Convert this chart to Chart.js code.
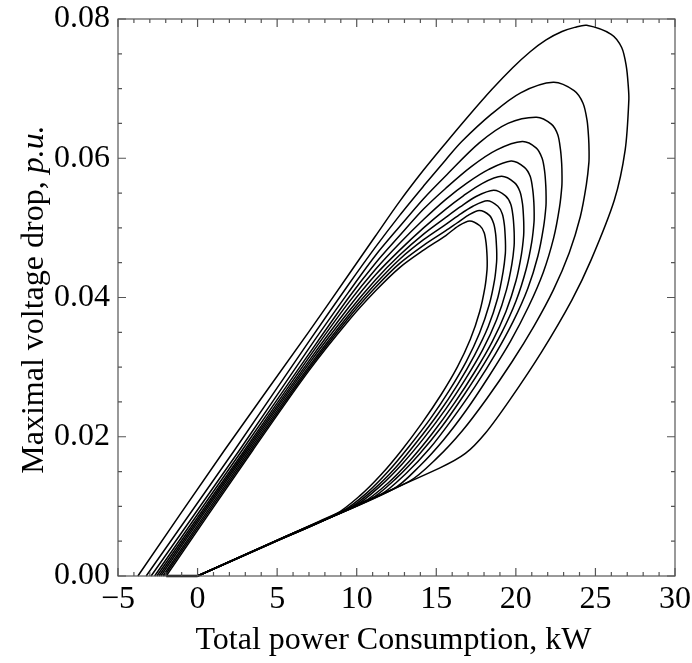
<!DOCTYPE html>
<html>
<head>
<meta charset="utf-8">
<script src="https://cdn.jsdelivr.net/npm/chart.js@4.4.1/dist/chart.umd.min.js"></script>
<style>
  html, body { margin: 0; padding: 0; background: #fff; }
  canvas { display: block; }
</style>
</head>
<body>
<canvas id="chart" width="692" height="663"></canvas>
<script>
// Tick positions of the two axes
const xTicks = [-5, 0, 5, 10, 15, 20, 25, 30];
const yTicks = [0, 0.02, 0.04, 0.06, 0.08];

const xTitle = 'Total power Consumption, kW';
const yTitleMain = 'Maximal voltage drop, ';
const yTitleItalic = 'p.u.';

// Loops, outermost first: [power kW, voltage drop p.u.]
// order: zero crossing -> rising branch -> top -> right branch -> lower line -> origin
const loop1 = [[-3.75,0],[1.7,0.0181],[7,0.0351],[9.5,0.0433],[11.2,0.0489],[12.7,0.0538],[14.2,0.0583],[15.6,0.0622],[17.0,0.066],[18.5,0.0699],[19.8,0.073],[20.9,0.0753],[21.9,0.077],[22.9,0.0782],[23.7,0.0788],[24.45,0.0791],[25.99,0.0778],[26.65,0.0759],[26.94,0.0732],[27.06,0.0705],[27.1,0.0684],[26.87,0.0612],[26.19,0.054],[24.73,0.0454],[23.51,0.0396],[21.62,0.0322],[19.62,0.0253],[18.08,0.0205],[16.83,0.0176],[15.2,0.0155],[7.6,0.0078],[0,0]];
const loop2 = [[-3.23,0],[2.33,0.0181],[7,0.0337],[9.5,0.0419],[11.2,0.0473],[12.7,0.0518],[14.2,0.056],[15.6,0.0598],[16.6,0.0624],[18.5,0.0664],[20.3,0.0694],[22.35,0.0709],[23.66,0.0697],[24.22,0.0679],[24.47,0.0655],[24.57,0.063],[24.6,0.061],[24.59,0.0594],[24.43,0.0562],[24.05,0.0516],[23.35,0.0464],[22.36,0.0411],[21.14,0.0359],[19.74,0.0307],[18.18,0.0255],[16.65,0.0209],[15.07,0.017],[13.3,0.0136],[6.65,0.0068],[0,0]];
const loop3 = [[-2.92,0],[2.64,0.0181],[7,0.0327],[9.5,0.0408],[11.2,0.0461],[12.7,0.0502],[14.2,0.0542],[15.6,0.0575],[17.7,0.0622],[19.5,0.065],[21.3,0.0659],[22.23,0.0649],[22.63,0.0634],[22.8,0.0613],[22.88,0.0592],[22.9,0.0575],[22.89,0.056],[22.74,0.0529],[22.38,0.0486],[21.72,0.0436],[20.8,0.0387],[19.66,0.0337],[18.34,0.0288],[16.88,0.0238],[15.44,0.0195],[13.96,0.0158],[12.3,0.0125],[6.15,0.0063],[0,0]];
const loop4 = [[-2.7,0],[2.81,0.0181],[7,0.0319],[9.5,0.04],[11.2,0.045],[12.7,0.0489],[14.2,0.0527],[15.6,0.0557],[17.2,0.0588],[18.8,0.0612],[20.4,0.0624],[21.27,0.0615],[21.65,0.06],[21.81,0.0581],[21.88,0.0561],[21.9,0.0545],[21.89,0.0531],[21.74,0.0501],[21.39,0.046],[20.75,0.0413],[19.84,0.0366],[18.72,0.0319],[17.43,0.0272],[15.99,0.0225],[14.58,0.0183],[13.13,0.0148],[11.5,0.0117],[5.75,0.0059],[0,0]];
const loop5 = [[-2.56,0],[2.96,0.0181],[7,0.0314],[9.5,0.0393],[11.2,0.0441],[12.7,0.0478],[14.2,0.0512],[15.6,0.0541],[16.9,0.0564],[18.3,0.0584],[19.7,0.0596],[20.54,0.0587],[20.9,0.0574],[21.06,0.0555],[21.13,0.0537],[21.15,0.0522],[21.14,0.0508],[21.0,0.048],[20.65,0.0441],[20.01,0.0395],[19.12,0.035],[18.01,0.0305],[16.74,0.026],[15.33,0.0214],[13.93,0.0175],[12.51,0.0141],[10.9,0.0111],[5.45,0.0056],[0,0]];
const loop6 = [[-2.43,0],[3.06,0.0181],[7,0.0309],[9.5,0.0386],[11.2,0.0433],[12.7,0.0468],[14.2,0.05],[15.6,0.0527],[16.7,0.0546],[17.9,0.0564],[19.1,0.0574],[19.91,0.0565],[20.26,0.0552],[20.42,0.0534],[20.48,0.0516],[20.5,0.0502],[20.49,0.0489],[20.35,0.0462],[20.01,0.0424],[19.38,0.038],[18.5,0.0336],[17.41,0.0293],[16.16,0.0249],[14.76,0.0205],[13.39,0.0167],[11.99,0.0134],[10.4,0.0106],[5.2,0.0053],[0,0]];
const loop7 = [[-2.31,0],[3.16,0.0181],[7,0.0305],[9.5,0.038],[11.2,0.0426],[12.7,0.0461],[14.2,0.0491],[15.6,0.0515],[16.5,0.053],[17.5,0.0545],[18.6,0.0554],[19.35,0.0546],[19.68,0.0534],[19.82,0.0517],[19.88,0.05],[19.9,0.0487],[19.89,0.0474],[19.75,0.0448],[19.41,0.0411],[18.79,0.0368],[17.92,0.0325],[16.84,0.0283],[15.6,0.024],[14.22,0.0198],[12.86,0.0161],[11.47,0.0129],[9.9,0.0101],[4.95,0.005],[0,0]];
const loop8 = [[-2.18,0],[3.27,0.0181],[7,0.0301],[9.5,0.0375],[11.2,0.042],[12.7,0.0455],[14.2,0.0483],[15.6,0.0505],[16.4,0.0518],[17.3,0.0531],[18.2,0.0539],[18.87,0.0531],[19.15,0.052],[19.28,0.0504],[19.33,0.0488],[19.35,0.0475],[19.34,0.0463],[19.2,0.0437],[18.87,0.04],[18.26,0.0358],[17.4,0.0317],[16.34,0.0275],[15.12,0.0233],[13.76,0.0192],[12.42,0.0155],[11.05,0.0124],[9.5,0.0097],[4.75,0.0048],[0,0]];
const loop9 = [[-2.08,0],[3.38,0.0181],[7,0.0298],[9.5,0.0371],[11.2,0.0415],[12.7,0.0449],[14.2,0.0475],[15.6,0.0496],[16.3,0.0507],[17.0,0.0518],[17.7,0.0525],[18.34,0.0518],[18.61,0.0506],[18.73,0.0491],[18.78,0.0475],[18.8,0.0463],[18.79,0.0451],[18.66,0.0425],[18.33,0.039],[17.72,0.0349],[16.88,0.0308],[15.83,0.0267],[14.63,0.0226],[13.29,0.0186],[11.97,0.015],[10.62,0.0119],[9.1,0.0093],[4.55,0.0046],[0,0]];
const loop10 = [[-1.97,0],[3.48,0.0181],[7,0.0295],[9.5,0.0367],[11.2,0.041],[12.7,0.0443],[14.2,0.0468],[15.6,0.0489],[16.4,0.0503],[17.1,0.051],[17.74,0.0503],[18.01,0.0493],[18.13,0.0478],[18.18,0.0464],[18.2,0.0452],[18.19,0.044],[18.06,0.0415],[17.73,0.038],[17.14,0.034],[16.32,0.03],[15.29,0.026],[14.11,0.022],[12.8,0.018],[11.51,0.0145],[10.19,0.0115],[8.7,0.0089],[4.35,0.0044],[0,0]];
// thick bit on the zero line
const baseSegment = [[-1.97,0],[0,0]];

const loops = [loop1, loop2, loop3, loop4, loop5, loop6, loop7, loop8, loop9, loop10];

const serif = '"Liberation Serif", "Times New Roman", serif';

// Frame with inward ticks on all four sides, plus the axis titles
const framePlugin = {
    id: 'frame',
    afterDraw(chart) {
        const { ctx, chartArea: a, scales: { x, y } } = chart;
        ctx.save();
        ctx.strokeStyle = '#555';
        ctx.lineWidth = 1.2;
        ctx.strokeRect(a.left, a.top, a.right - a.left, a.bottom - a.top);
        ctx.beginPath();
        for (let v = -5; v <= 30; v++) {
            const px = x.getPixelForValue(v);
            const len = v % 5 === 0 ? 8 : 4;
            ctx.moveTo(px, a.bottom); ctx.lineTo(px, a.bottom - len);
            ctx.moveTo(px, a.top); ctx.lineTo(px, a.top + len);
        }
        for (let i = 0; i <= 16; i++) {
            const py = y.getPixelForValue(i * 0.005);
            const len = i % 4 === 0 ? 8 : 4;
            ctx.moveTo(a.left, py); ctx.lineTo(a.left + len, py);
            ctx.moveTo(a.right, py); ctx.lineTo(a.right - len, py);
        }
        ctx.stroke();

        ctx.fillStyle = '#000';
        ctx.font = '32px ' + serif;
        ctx.textAlign = 'center';
        ctx.textBaseline = 'alphabetic';
        ctx.fillText(xTitle, (a.left + a.right) / 2 - 3, 649);

        ctx.translate(43, (a.top + a.bottom) / 2 + 2);
        ctx.rotate(-Math.PI / 2);
        ctx.textAlign = 'left';
        ctx.font = '32px ' + serif;
        const w1 = ctx.measureText(yTitleMain).width;
        ctx.font = 'italic 32px ' + serif;
        const w2 = ctx.measureText(yTitleItalic).width;
        const start = -(w1 + w2) / 2;
        ctx.font = '32px ' + serif;
        ctx.fillText(yTitleMain, start, 0);
        ctx.font = 'italic 32px ' + serif;
        ctx.fillText(yTitleItalic, start + w1, 0);
        ctx.restore();
    }
};

const datasets = loops.map(loop => ({
    data: loop.map(([px, v]) => ({ x: px, y: v })),
    showLine: true,
    borderColor: '#000',
    borderWidth: 1.5,
    pointRadius: 0,
    tension: 0.3,
    fill: false,
    clip: false
}));
datasets.push({
    data: baseSegment.map(([px, v]) => ({ x: px, y: v })),
    showLine: true,
    borderColor: '#000',
    borderWidth: 2.5,
    pointRadius: 0,
    tension: 0,
    clip: false
});

new Chart(document.getElementById('chart').getContext('2d'), {
    type: 'scatter',
    data: { datasets: datasets },
    options: {
        responsive: false,
        animation: false,
        devicePixelRatio: 1,
        layout: { padding: { top: 19, right: 17, left: 0, bottom: 0 } },
        plugins: { legend: { display: false }, tooltip: { enabled: false } },
        scales: {
            x: {
                type: 'linear',
                min: -5,
                max: 30,
                afterBuildTicks: s => { s.ticks = xTicks.map(v => ({ value: v })); },
                afterFit: s => { s.height = 87; s.paddingLeft = 0; s.paddingRight = 0; },
                grid: { display: false, drawTicks: false },
                border: { display: false },
                ticks: {
                    color: '#000',
                    font: { family: serif, size: 32 },
                    padding: 4,
                    maxRotation: 0,
                    autoSkip: false,
                    callback: v => String(v).replace('-', '\u2212')
                }
            },
            y: {
                type: 'linear',
                min: 0,
                max: 0.08,
                afterBuildTicks: s => { s.ticks = yTicks.map(v => ({ value: v })); },
                afterFit: s => { s.width = 118; s.paddingTop = 0; s.paddingBottom = 0; },
                grid: { display: false, drawTicks: false },
                border: { display: false },
                ticks: {
                    color: '#000',
                    font: { family: serif, size: 32 },
                    padding: 8,
                    callback: v => v.toFixed(2)
                }
            }
        }
    },
    plugins: [framePlugin]
});
</script>
</body>
</html>
